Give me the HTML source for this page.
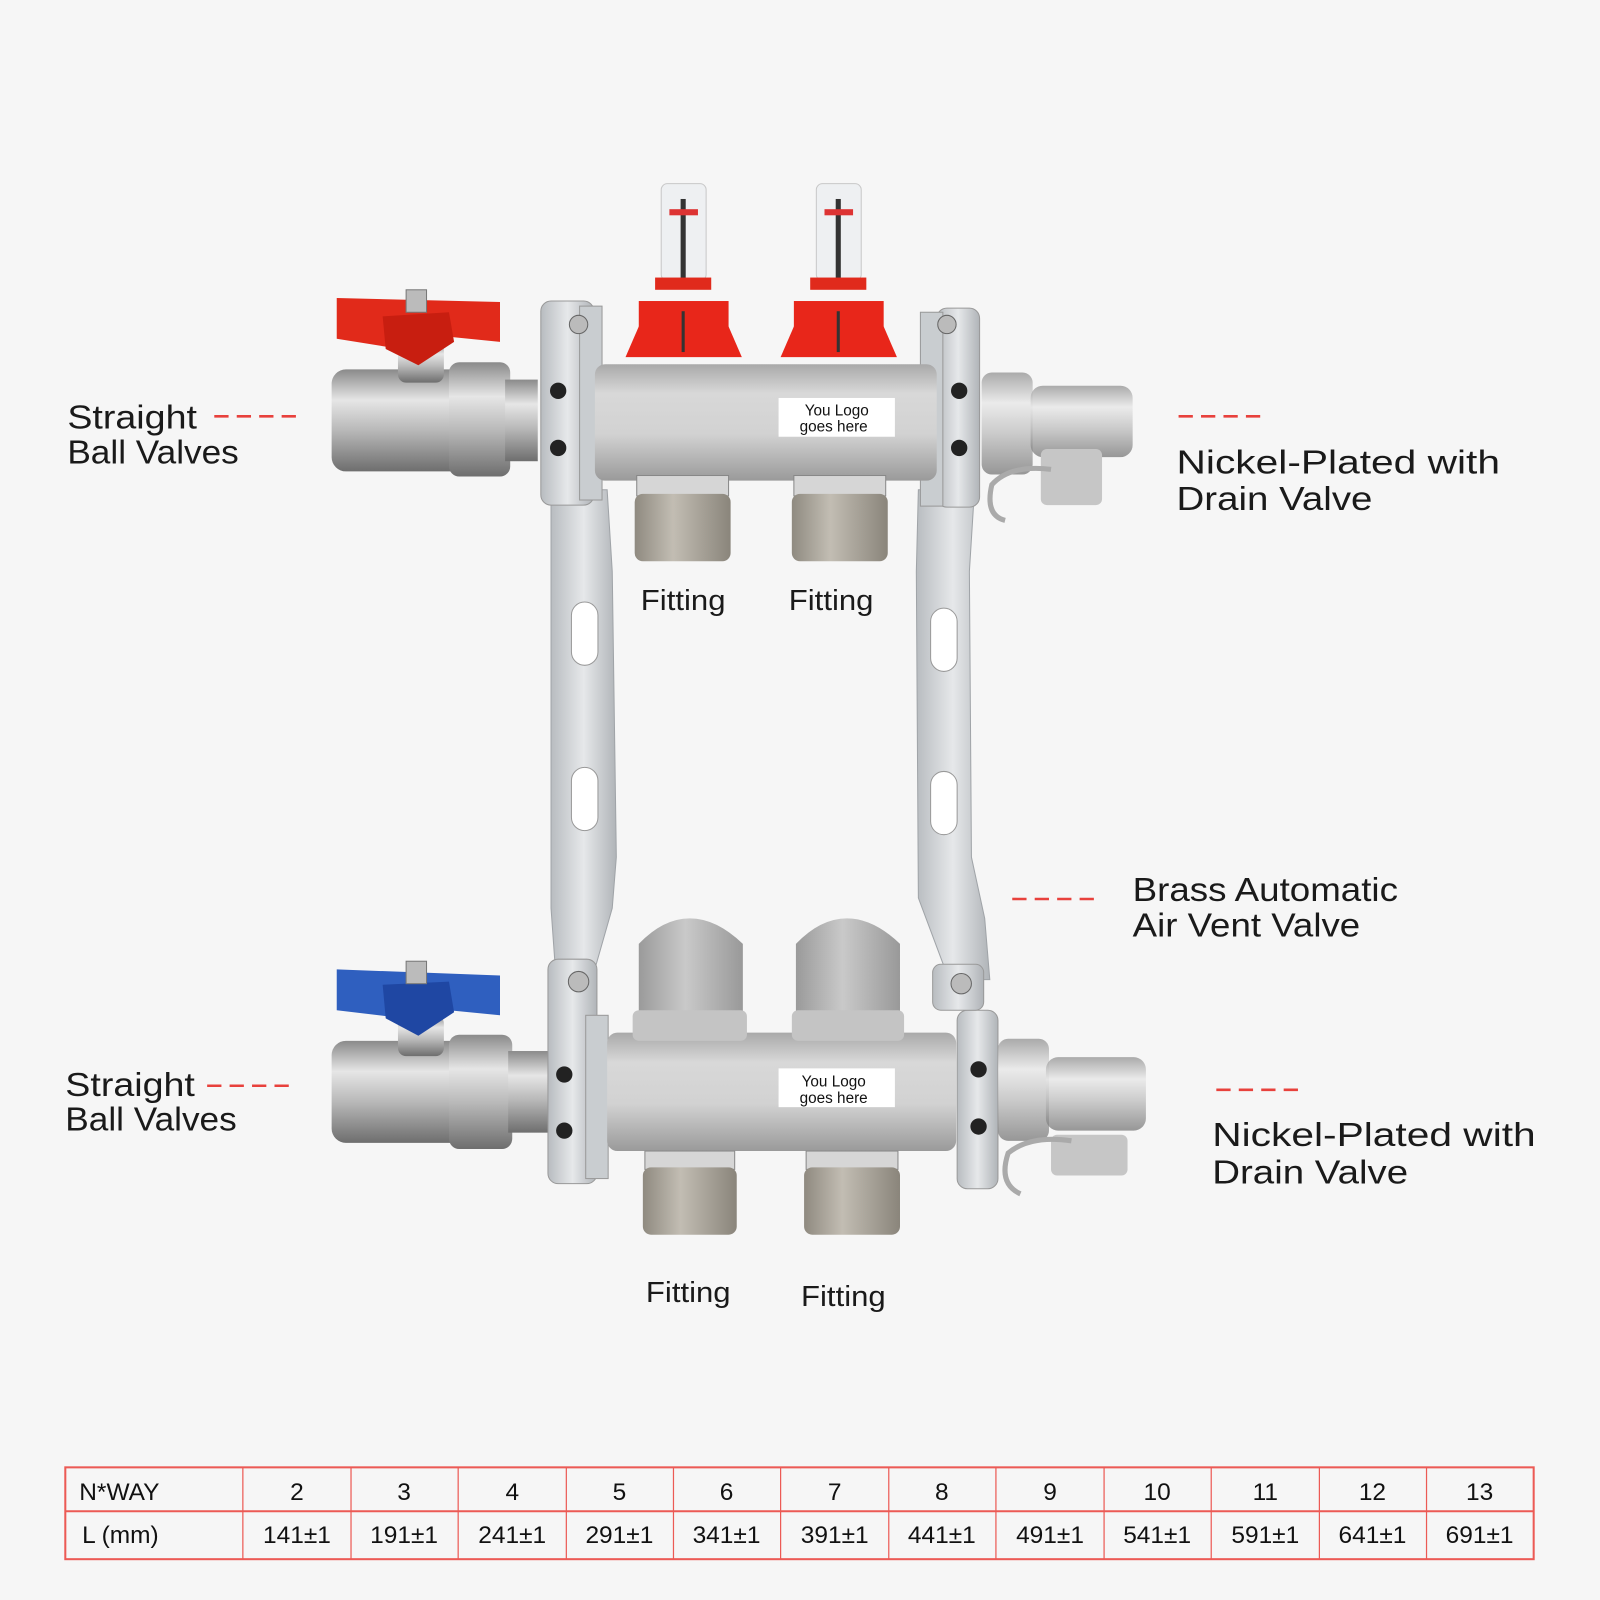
<!DOCTYPE html>
<html><head><meta charset="utf-8"><style>
html,body{margin:0;padding:0;background:#f6f6f6;}
svg{display:block;}
.lbl{font-family:"Liberation Sans",sans-serif;font-size:33px;fill:#1a1a1a;}
.fit{font-family:"Liberation Sans",sans-serif;font-size:28px;fill:#1a1a1a;}
.tb{font-family:"Liberation Sans Narrow","Liberation Sans",sans-serif;font-size:24px;fill:#111;}
.dash{stroke:#e8413c;stroke-width:2.5;stroke-dasharray:14 8;}
</style></head><body>
<svg width="1600" height="1600" viewBox="0 0 1568 1568" xmlns="http://www.w3.org/2000/svg">
<defs>
<linearGradient id="pipe" x1="0" y1="0" x2="0" y2="1">
<stop offset="0" stop-color="#a9a9a9"/><stop offset="0.25" stop-color="#d8d8d8"/><stop offset="0.6" stop-color="#d2d2d2"/><stop offset="1" stop-color="#9a9a9a"/></linearGradient>
<linearGradient id="chrome" x1="0" y1="0" x2="0" y2="1">
<stop offset="0" stop-color="#8a8a8a"/><stop offset="0.3" stop-color="#e6e6e6"/><stop offset="0.6" stop-color="#b8b8b8"/><stop offset="1" stop-color="#6e6e6e"/></linearGradient>
<linearGradient id="fitg" x1="0" y1="0" x2="1" y2="0">
<stop offset="0" stop-color="#8f8a80"/><stop offset="0.4" stop-color="#c2bdb3"/><stop offset="1" stop-color="#8a857b"/></linearGradient>
<linearGradient id="capg" x1="0" y1="0" x2="1" y2="0">
<stop offset="0" stop-color="#9a9a9a"/><stop offset="0.45" stop-color="#c9c9c9"/><stop offset="1" stop-color="#999"/></linearGradient>
<linearGradient id="brk" x1="0" y1="0" x2="1" y2="0">
<stop offset="0" stop-color="#b8bcc0"/><stop offset="0.5" stop-color="#e6e8ea"/><stop offset="1" stop-color="#b0b4b8"/></linearGradient>
</defs>
<rect width="1568" height="1568" fill="#f6f6f6"/>

<path d="M540 480 L595 480 L600 560 L604 840 L600 890 L580 960 L545 960 L540 890 Z" fill="url(#brk)" stroke="#a0a4a8"/>
<path d="M900 480 L955 480 L950 560 L952 840 L965 900 L970 960 L930 960 L900 880 L898 560 Z" fill="url(#brk)" stroke="#a0a4a8"/>
<rect x="560" y="590" width="26" height="62" rx="13" fill="#fff" stroke="#999"/>
<rect x="560" y="752" width="26" height="62" rx="13" fill="#fff" stroke="#999"/>
<rect x="912" y="596" width="26" height="62" rx="13" fill="#fff" stroke="#999"/>
<rect x="912" y="756" width="26" height="62" rx="13" fill="#fff" stroke="#999"/>

<rect x="325" y="362" width="130" height="100" rx="14" fill="url(#chrome)"/>
<rect x="440" y="355" width="60" height="112" rx="10" fill="url(#chrome)"/>
<rect x="495" y="372" width="32" height="80" fill="url(#chrome)"/>
<rect x="390" y="335" width="45" height="40" rx="8" fill="url(#chrome)"/>
<polygon points="330,292 490,296 490,335 440,330 410,355 380,340 330,332" fill="#e12a1a"/>
<polygon points="375,310 440,306 445,335 410,358 378,342" fill="#c81e10"/>
<rect x="398" y="284" width="20" height="22" fill="#bbb" stroke="#777"/>
<rect x="530" y="295" width="52" height="200" rx="10" fill="url(#brk)" stroke="#999"/>
<rect x="568" y="300" width="22" height="190" fill="#c9cdd0" stroke="#999"/>
<circle cx="547" cy="383" r="8" fill="#222"/><circle cx="547" cy="439" r="8" fill="#222"/>
<circle cx="567" cy="318" r="9" fill="#bbb" stroke="#666"/>
<rect x="918" y="302" width="42" height="195" rx="10" fill="url(#brk)" stroke="#999"/>
<rect x="902" y="306" width="22" height="190" fill="#c9cdd0" stroke="#999"/>
<circle cx="940" cy="383" r="8" fill="#222"/><circle cx="940" cy="439" r="8" fill="#222"/>
<circle cx="928" cy="318" r="9" fill="#bbb" stroke="#666"/>
<rect x="583" y="357" width="335" height="114" rx="10" fill="url(#pipe)"/>
<rect x="763" y="390" width="114" height="38" fill="#fff"/>
<text x="820" y="407" font-family="Liberation Sans,sans-serif" font-size="15" text-anchor="middle" fill="#111">You Logo</text>
<text x="817" y="423" font-family="Liberation Sans,sans-serif" font-size="15" text-anchor="middle" fill="#111">goes here</text>
<g>
<rect x="648" y="180" width="44" height="95" rx="6" fill="#eef0f2" stroke="#c8c8c8"/>
<rect x="667" y="195" width="5" height="80" fill="#333"/>
<rect x="656" y="205" width="28" height="6" fill="#d33"/>
<rect x="642" y="272" width="55" height="12" fill="#e02a1c"/>
<rect x="626" y="295" width="88" height="30" fill="#e8261a"/>
<polygon points="626,320 714,320 727,350 613,350" fill="#e8261a"/>
<rect x="668" y="305" width="3" height="40" fill="#333"/>
</g>
<g transform="translate(152,0)">
<rect x="648" y="180" width="44" height="95" rx="6" fill="#eef0f2" stroke="#c8c8c8"/>
<rect x="667" y="195" width="5" height="80" fill="#333"/>
<rect x="656" y="205" width="28" height="6" fill="#d33"/>
<rect x="642" y="272" width="55" height="12" fill="#e02a1c"/>
<rect x="626" y="295" width="88" height="30" fill="#e8261a"/>
<polygon points="626,320 714,320 727,350 613,350" fill="#e8261a"/>
<rect x="668" y="305" width="3" height="40" fill="#333"/>
</g>
<rect x="624" y="466" width="90" height="20" fill="#d6d6d6" stroke="#888"/>
<rect x="622" y="484" width="94" height="66" rx="8" fill="url(#fitg)"/>
<rect x="778" y="466" width="90" height="20" fill="#d6d6d6" stroke="#888"/>
<rect x="776" y="484" width="94" height="66" rx="8" fill="url(#fitg)"/>
<rect x="962" y="365" width="50" height="100" rx="10" fill="url(#chrome)" opacity="0.7"/>
<rect x="1010" y="378" width="100" height="70" rx="12" fill="url(#chrome)" opacity="0.7"/>
<rect x="1020" y="440" width="60" height="55" rx="6" fill="#c6c6c6"/>
<path d="M985 510 Q965 505 972 475 Q990 455 1030 460" fill="none" stroke="#aaa" stroke-width="5"/>

<rect x="325" y="1020" width="130" height="100" rx="14" fill="url(#chrome)"/>
<rect x="440" y="1014" width="62" height="112" rx="10" fill="url(#chrome)"/>
<rect x="498" y="1030" width="40" height="80" fill="url(#chrome)"/>
<rect x="390" y="995" width="45" height="40" rx="8" fill="url(#chrome)"/>
<polygon points="330,950 490,956 490,995 440,990 410,1012 380,996 330,990" fill="#2f5fbf"/>
<polygon points="375,965 440,962 445,992 410,1015 378,998" fill="#1f47a3"/>
<rect x="398" y="942" width="20" height="22" fill="#bbb" stroke="#777"/>
<rect x="537" y="940" width="48" height="220" rx="10" fill="url(#brk)" stroke="#999"/>
<rect x="574" y="995" width="22" height="160" fill="#c9cdd0" stroke="#999"/>
<circle cx="553" cy="1053" r="8" fill="#222"/><circle cx="553" cy="1108" r="8" fill="#222"/>
<circle cx="567" cy="962" r="10" fill="#bbb" stroke="#666"/>
<rect x="938" y="990" width="40" height="175" rx="10" fill="url(#brk)" stroke="#999"/>
<rect x="914" y="945" width="50" height="45" rx="8" fill="url(#brk)" stroke="#999"/>
<circle cx="959" cy="1048" r="8" fill="#222"/><circle cx="959" cy="1104" r="8" fill="#222"/>
<circle cx="942" cy="964" r="10" fill="#bbb" stroke="#666"/>
<rect x="595" y="1012" width="342" height="116" rx="10" fill="url(#pipe)"/>
<rect x="763" y="1047" width="114" height="38" fill="#fff"/>
<text x="817" y="1065" font-family="Liberation Sans,sans-serif" font-size="15" text-anchor="middle" fill="#111">You Logo</text>
<text x="817" y="1081" font-family="Liberation Sans,sans-serif" font-size="15" text-anchor="middle" fill="#111">goes here</text>
<path d="M626 1000 L626 925 Q650 900 676 900 Q702 900 728 925 L728 1000 Z" fill="url(#capg)"/>
<rect x="620" y="990" width="112" height="30" rx="6" fill="#c4c4c4"/>
<path d="M780 1000 L780 925 Q804 900 830 900 Q856 900 882 925 L882 1000 Z" fill="url(#capg)"/>
<rect x="776" y="990" width="110" height="30" rx="6" fill="#c4c4c4"/>
<rect x="632" y="1128" width="88" height="18" fill="#d6d6d6" stroke="#888"/>
<rect x="630" y="1144" width="92" height="66" rx="8" fill="url(#fitg)"/>
<rect x="790" y="1128" width="90" height="18" fill="#d6d6d6" stroke="#888"/>
<rect x="788" y="1144" width="94" height="66" rx="8" fill="url(#fitg)"/>
<rect x="978" y="1018" width="50" height="100" rx="10" fill="url(#chrome)" opacity="0.7"/>
<rect x="1025" y="1036" width="98" height="72" rx="12" fill="url(#chrome)" opacity="0.7"/>
<rect x="1030" y="1112" width="75" height="40" rx="6" fill="#c6c6c6"/>
<path d="M1000 1170 Q978 1160 988 1130 Q1010 1112 1050 1118" fill="none" stroke="#aaa" stroke-width="5"/>

<text class="lbl" x="66" y="420" textLength="127" lengthAdjust="spacingAndGlyphs">Straight</text>
<text class="lbl" x="66" y="454" textLength="168" lengthAdjust="spacingAndGlyphs">Ball Valves</text>
<line class="dash" x1="210" y1="408" x2="295" y2="408"/>
<line class="dash" x1="1155" y1="408" x2="1242" y2="408"/>
<text class="lbl" x="1153" y="464" textLength="317" lengthAdjust="spacingAndGlyphs">Nickel-Plated with</text>
<text class="lbl" x="1153" y="500" textLength="192" lengthAdjust="spacingAndGlyphs">Drain Valve</text>
<line class="dash" x1="992" y1="881" x2="1078" y2="881"/>
<text class="lbl" x="1110" y="883" textLength="260" lengthAdjust="spacingAndGlyphs">Brass Automatic</text>
<text class="lbl" x="1110" y="918" textLength="223" lengthAdjust="spacingAndGlyphs">Air Vent Valve</text>
<text class="lbl" x="64" y="1074" textLength="127" lengthAdjust="spacingAndGlyphs">Straight</text>
<text class="lbl" x="64" y="1108" textLength="168" lengthAdjust="spacingAndGlyphs">Ball Valves</text>
<line class="dash" x1="203" y1="1064" x2="288" y2="1064"/>
<line class="dash" x1="1192" y1="1068" x2="1278" y2="1068"/>
<text class="lbl" x="1188" y="1123" textLength="317" lengthAdjust="spacingAndGlyphs">Nickel-Plated with</text>
<text class="lbl" x="1188" y="1160" textLength="192" lengthAdjust="spacingAndGlyphs">Drain Valve</text>
<text class="fit" x="628" y="598" textLength="83" lengthAdjust="spacingAndGlyphs">Fitting</text>
<text class="fit" x="773" y="598" textLength="83" lengthAdjust="spacingAndGlyphs">Fitting</text>
<text class="fit" x="633" y="1276" textLength="83" lengthAdjust="spacingAndGlyphs">Fitting</text>
<text class="fit" x="785" y="1280" textLength="83" lengthAdjust="spacingAndGlyphs">Fitting</text>

<g stroke="#ec5a55" stroke-width="1.2" fill="none">
<rect x="64" y="1438" width="1439" height="90" stroke-width="2"/>
<line x1="64" y1="1481" x2="1503" y2="1481" stroke-width="2"/>
<line x1="238" y1="1438" x2="238" y2="1528"/><line x1="344" y1="1438" x2="344" y2="1528"/>
<line x1="449" y1="1438" x2="449" y2="1528"/><line x1="555" y1="1438" x2="555" y2="1528"/>
<line x1="660" y1="1438" x2="660" y2="1528"/><line x1="765" y1="1438" x2="765" y2="1528"/>
<line x1="871" y1="1438" x2="871" y2="1528"/><line x1="976" y1="1438" x2="976" y2="1528"/>
<line x1="1082" y1="1438" x2="1082" y2="1528"/><line x1="1187" y1="1438" x2="1187" y2="1528"/>
<line x1="1293" y1="1438" x2="1293" y2="1528"/><line x1="1398" y1="1438" x2="1398" y2="1528"/>
</g>
<g class="tb" text-anchor="middle">
<text x="117" y="1470">N*WAY</text>
<text x="118" y="1512">L (mm)</text>
<text x="291" y="1470">2</text><text x="291" y="1512">141±1</text>
<text x="396" y="1470">3</text><text x="396" y="1512">191±1</text>
<text x="502" y="1470">4</text><text x="502" y="1512">241±1</text>
<text x="607" y="1470">5</text><text x="607" y="1512">291±1</text>
<text x="712" y="1470">6</text><text x="712" y="1512">341±1</text>
<text x="818" y="1470">7</text><text x="818" y="1512">391±1</text>
<text x="923" y="1470">8</text><text x="923" y="1512">441±1</text>
<text x="1029" y="1470">9</text><text x="1029" y="1512">491±1</text>
<text x="1134" y="1470">10</text><text x="1134" y="1512">541±1</text>
<text x="1240" y="1470">11</text><text x="1240" y="1512">591±1</text>
<text x="1345" y="1470">12</text><text x="1345" y="1512">641±1</text>
<text x="1450" y="1470">13</text><text x="1450" y="1512">691±1</text>
</g>
</svg>
</body></html>
